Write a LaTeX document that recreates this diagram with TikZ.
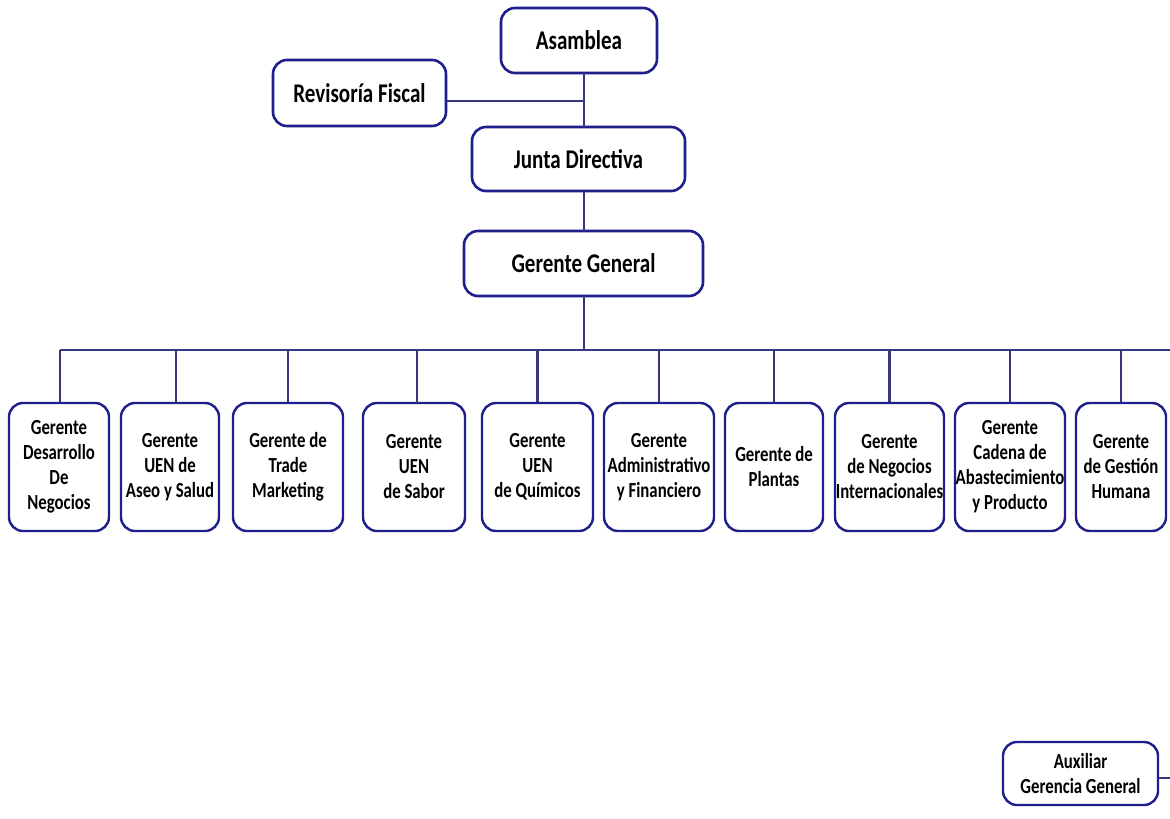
\documentclass[tikz,border=0pt]{standalone}
\usepackage{fontspec}
\setmainfont{Carlito}[FakeStretch=0.78]
\definecolor{boxline}{RGB}{30,30,140}
\definecolor{conline}{RGB}{55,55,125}
\begin{document}
\begin{tikzpicture}[x=1pt,y=-1pt,
  orgbox/.style={draw=boxline, line width=2.6pt, rounded corners=14pt, fill=white,
    align=center, inner sep=2pt, font=\bfseries\fontsize{27}{30}\selectfont},
  unitbox/.style={draw=boxline, line width=2.4pt, rounded corners=14pt, fill=white,
    align=center, inner sep=0pt, minimum height=128pt,
    font=\bfseries\fontsize{21.5}{25}\selectfont},
  link/.style={draw=conline, line width=2.2pt}]
\useasboundingbox (0,0) rectangle (1170,819);
\fill[white] (0,0) rectangle (1170,819);

% upper levels
\node[orgbox, minimum width=156pt, minimum height=65pt] (asam) at (579,40.5) {Asamblea};
\node[orgbox, minimum width=173pt, minimum height=66pt] (rev) at (359.5,93) {Revisoría Fiscal};
\node[orgbox, minimum width=213pt, minimum height=64pt] (junta) at (578.5,159) {Junta Directiva};
\node[orgbox, minimum width=239pt, minimum height=65pt] (gg) at (583.5,263.5) {Gerente General};

% spine coordinates
\coordinate (s1) at (584,73);
\coordinate (s2) at (584,127);
\coordinate (s3) at (584,191);
\coordinate (s4) at (584,231);
\coordinate (s5) at (584,296);
\coordinate (revj) at (584,101);
\coordinate (busL) at (60,350);
\coordinate (busR) at (1170,350);

\draw[link] (s1) -- (s2);
\draw[link] (rev.east |- revj) -- (revj);
\draw[link] (s3) -- (s4);
\draw[link] (s5) -- (584,350);
\draw[link] (busL) -- (busR);

% managers
\node[unitbox, minimum width=100pt] (u1) at (59,467) {Gerente\\Desarrollo\\De\\Negocios};
\node[unitbox, minimum width=98pt] (u2) at (170,467) {Gerente\\UEN de\\Aseo y Salud};
\node[unitbox, minimum width=110pt] (u3) at (288,467) {Gerente de\\Trade\\Marketing};
\node[unitbox, minimum width=102pt] (u4) at (414,467) {Gerente\\UEN\\de Sabor};
\node[unitbox, minimum width=111pt] (u5) at (537.5,467) {Gerente\\UEN\\de Químicos};
\node[unitbox, minimum width=110pt] (u6) at (659,467) {Gerente\\Administrativo\\y Financiero};
\node[unitbox, minimum width=98pt] (u7) at (774,467) {Gerente de\\Plantas};
\node[unitbox, minimum width=109pt] (u8) at (889.5,467) {Gerente\\de Negocios\\Internacionales};
\node[unitbox, minimum width=110pt] (u9) at (1010,467) {Gerente\\Cadena de\\Abastecimiento\\y Producto};
\node[unitbox, minimum width=90pt] (u10) at (1121,467) {Gerente\\de Gestión\\Humana};

\draw[link] (busL) -- (u1.north -| busL);
\draw[link] (176,350) -- (176,403);
\draw[link] (u3.north |- busL) -- (u3.north);
\draw[link] (417,350) -- (417,403);
\draw[link] (u5.north |- busL) -- (u5.north);
\draw[link] (u6.north |- busL) -- (u6.north);
\draw[link] (u7.north |- busL) -- (u7.north);
\draw[link] (u8.north |- busL) -- (u8.north);
\draw[link] (u9.north |- busL) -- (u9.north);
\draw[link] (u10.north |- busL) -- (u10.north);

% assistant
\node[unitbox, minimum width=155pt, minimum height=63pt] (aux) at (1080.5,773.5) {Auxiliar\\Gerencia General};
\coordinate (auxR) at (1170,778);
\draw[link] (aux.east |- auxR) -- (auxR);
\end{tikzpicture}
\end{document}
